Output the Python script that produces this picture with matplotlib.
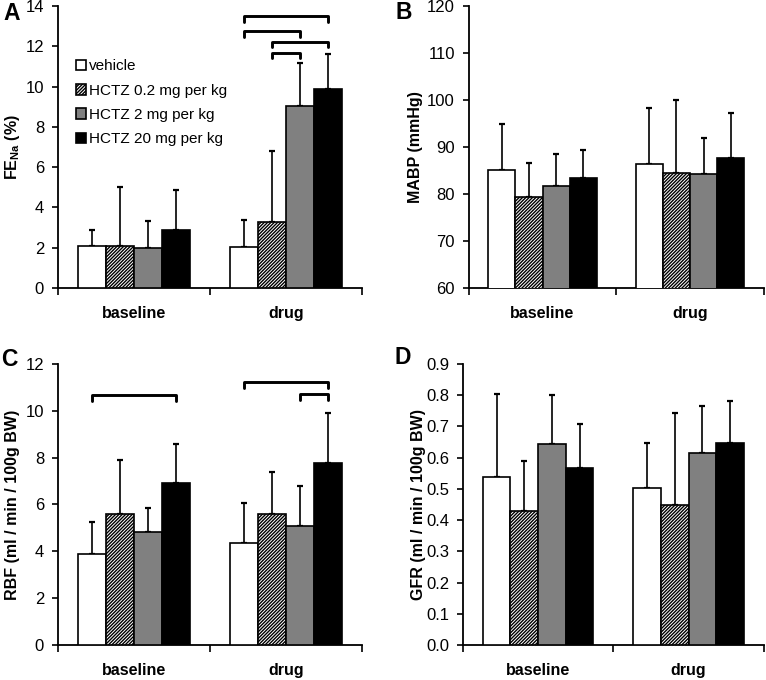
import matplotlib
matplotlib.use("Agg")
import matplotlib.pyplot as plt
import numpy as np

plt.rcParams["font.family"] = ["Liberation Sans", "DejaVu Sans"]
plt.rcParams["mathtext.fontset"] = "custom"
plt.rcParams["mathtext.rm"] = "Liberation Sans:bold"
plt.rcParams["mathtext.bf"] = "Liberation Sans:bold"
plt.rcParams["hatch.linewidth"] = 1.0

periods = ["baseline", "drug"]
groups = ["vehicle", "HCTZ 0.2 mg per kg", "HCTZ 2 mg per kg", "HCTZ 20 mg per kg"]

# rows: baseline, drug; columns: groups
fena_mean = [[2.07, 2.10, 2.00, 2.89], [2.03, 3.26, 9.04, 9.87]]
fena_sd = [[0.79, 2.90, 1.32, 1.95], [1.33, 3.52, 2.12, 1.75]]

mabp_mean = [[85.1, 79.3, 81.6, 83.4], [86.3, 84.4, 84.3, 87.6]]
mabp_sd = [[9.8, 7.3, 6.9, 5.9], [11.9, 15.6, 7.6, 9.7]]

rbf_mean = [[3.90, 5.61, 4.84, 6.90], [4.37, 5.59, 5.08, 7.76]]
rbf_sd = [[1.34, 2.29, 1.02, 1.68], [1.68, 1.81, 1.71, 2.16]]

gfr_mean = [[0.539, 0.428, 0.644, 0.568], [0.504, 0.448, 0.616, 0.646]]
gfr_sd = [[0.264, 0.161, 0.156, 0.140], [0.143, 0.295, 0.149, 0.135]]

# significance brackets: (period, group a, group b, height)
fena_brackets = [(1, 0, 3, 13.5), (1, 0, 2, 12.76), (1, 1, 3, 12.23), (1, 1, 2, 11.68)]
rbf_brackets = [(0, 0, 3, 10.68), (1, 0, 3, 11.22), (1, 2, 3, 10.7)]

face = ["white", "white", "#808080", "black"]
hatch = [None, "/" * 10, None, None]
width = 0.184


def offset(i):
    return (i - 1.5) * width


def draw_panel(ax, mean, sd, ylim, yticks, ylabel, label_x, fmt="{:g}", brackets=()):
    mean = np.array(mean)
    sd = np.array(sd)
    x = np.arange(len(periods))
    for i, g in enumerate(groups):
        ax.bar(x + offset(i), mean[:, i], width, color=face[i], hatch=hatch[i],
               edgecolor="black", linewidth=1.2, label=g, zorder=3)
        ax.errorbar(x + offset(i), mean[:, i], yerr=[np.zeros(len(x)), sd[:, i]],
                    fmt="none", ecolor="black", elinewidth=1.2, capsize=2.2,
                    capthick=1.6, zorder=2)
    drop = 0.02 * (ylim[1] - ylim[0])
    for p, a, b, h in brackets:
        xa, xb = p + offset(a), p + offset(b)
        ax.plot([xa, xa, xb, xb], [h - drop, h, h, h - drop], color="black",
                lw=2.1, solid_joinstyle="round", solid_capstyle="round",
                clip_on=False, zorder=4)

    ax.set_xlim(-0.5, 1.5)
    ax.set_ylim(*ylim)
    ax.set_yticks(yticks)
    ax.set_yticklabels([fmt.format(t) for t in yticks])
    ax.set_xticks(x)
    ax.set_xticklabels(periods, fontsize=11.5, fontweight="bold")
    ax.set_xticks([-0.5, 0.5, 1.5], minor=True)
    ax.tick_params(axis="x", which="major", length=0, pad=13)
    ax.tick_params(axis="x", which="minor", length=5, width=1.2, direction="out")
    ax.tick_params(axis="y", length=4, width=1.2, pad=6, labelsize=12)
    for s in ["top", "right"]:
        ax.spines[s].set_visible(False)
    for s in ["left", "bottom"]:
        ax.spines[s].set_linewidth(1.3)
    ax.set_ylabel(ylabel, fontsize=11.5, fontweight="bold")
    ax.yaxis.set_label_coords(label_x, 0.5)


fig = plt.figure(figsize=(7.66, 6.8), dpi=100)
axA = fig.add_axes([0.0757, 0.5765, 0.3969, 0.4147])
axB = fig.add_axes([0.612, 0.5765, 0.385, 0.4147])
axC = fig.add_axes([0.0757, 0.0515, 0.3969, 0.4132])
axD = fig.add_axes([0.6044, 0.0515, 0.3926, 0.4132])

draw_panel(axA, fena_mean, fena_sd, (0, 14), np.arange(0, 15, 2),
           r"FE$_{\mathrm{Na}}$ (%)", -0.118, brackets=fena_brackets)
draw_panel(axB, mabp_mean, mabp_sd, (60, 120), np.arange(60, 121, 10),
           "MABP (mmHg)", -0.156)
draw_panel(axC, rbf_mean, rbf_sd, (0, 12), np.arange(0, 13, 2),
           "RBF (ml / min / 100g BW)", -0.125, brackets=rbf_brackets)
draw_panel(axD, gfr_mean, gfr_sd, (0, 0.9), np.round(np.arange(0, 0.91, 0.1), 1),
           "GFR (ml / min / 100g BW)", -0.123, fmt="{:.1f}")

axA.legend(loc="upper left", bbox_to_anchor=(0.058, 0.811), frameon=False,
           fontsize=11, handlelength=0.7, handleheight=0.7, handletextpad=0.2,
           labelspacing=0.68, borderpad=0, borderaxespad=0)

for letter, (px, py) in zip("ABCD", [(12, 13), (404, 12.5), (9, 360), (403, 357.5)]):
    fig.text(px / 766, 1 - py / 680, letter, fontsize=16.5, fontweight="bold",
             ha="center", va="center")

fig.savefig("out.png", dpi=100)
